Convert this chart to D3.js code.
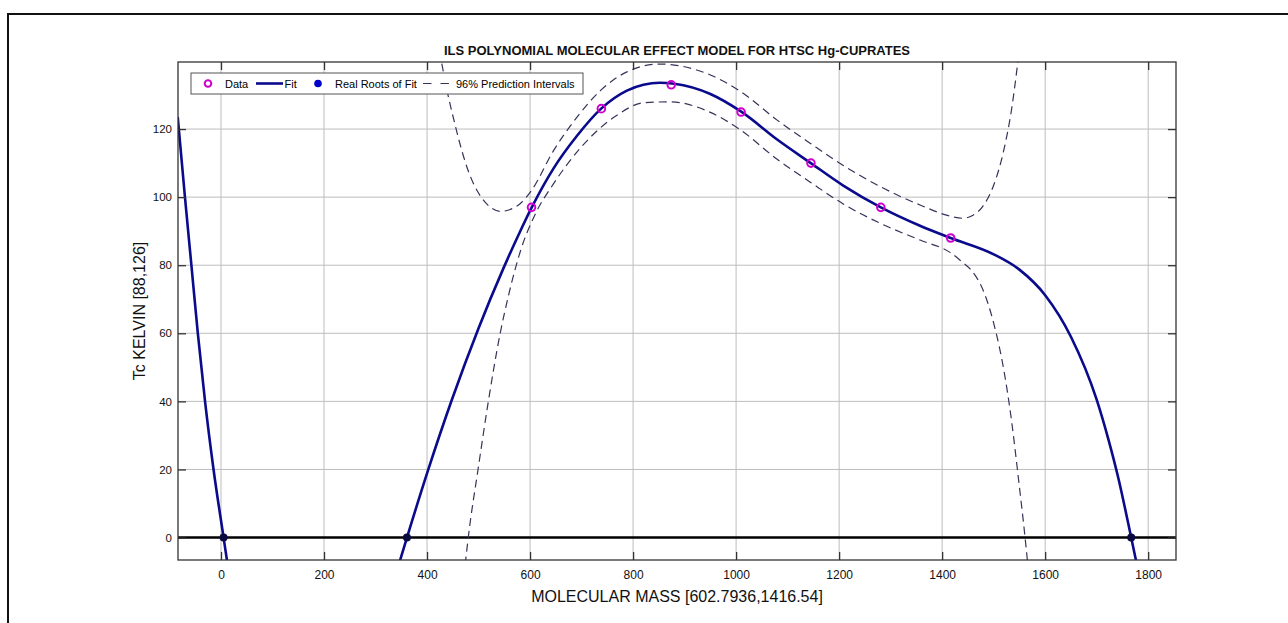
<!DOCTYPE html>
<html>
<head>
<meta charset="utf-8">
<script src="https://cdn.jsdelivr.net/npm/d3@7"></script>
<style>
  body { margin: 0; background: #fff; }
  text { font-family: "Liberation Sans", Arial, Helvetica, sans-serif; }
</style>
</head>
<body>
<div id="chart"></div>
<script>
  // data points (molecular mass, Tc)
  var massX = [602.79, 738.42, 874.04, 1009.67, 1145.29, 1280.92, 1416.54];
  var tcData = [97, 126, 133, 125, 110, 97, 88];
  var rootX = [5, 361, 1767];

  // fit curve (two visible branches)
  var fitLeftX = [-84, -70, -57.5, -45, -31, -14.5, 5, 11.5, 14];
  var fitLeftY = [123.5, 100, 80, 60, 40, 20, 0, -6.6, -9];
  var fitMainX = [344, 361, 402, 448, 500, 548, 580, 603, 645, 690, 738, 788, 820, 852, 880, 950, 1010, 1079, 1145, 1208, 1281, 1357, 1416.5, 1500, 1550, 1600, 1650, 1700, 1723, 1742, 1767, 1777, 1782];
  var fitMainY = [-8.5, 0, 19.8, 40.4, 61.5, 79, 89.7, 96.9, 108.3, 117.8, 126, 131.3, 133, 133.6, 133.3, 130.3, 125.1, 117, 110, 103.4, 97, 91.6, 88, 83.2, 78.7, 71.2, 59, 40.5, 28.7, 17.5, 0, -7.2, -11];

  // 96% prediction intervals
  var upperX = [424, 440, 454, 466, 477, 490, 506, 525, 542, 560, 580, 603, 645, 690, 738, 788, 852, 900, 950, 1010, 1079, 1145, 1208, 1281, 1357, 1416, 1440, 1460, 1480, 1500, 1520, 1535, 1548];
  var upperY = [143, 130.5, 121.5, 114.5, 109, 104, 99.8, 96.8, 95.8, 96.3, 98, 102, 113.5, 123.3, 131.5, 136.8, 139.1, 138.3, 135.9, 130.9, 122.7, 115.7, 109.3, 103, 97.7, 94.4, 93.8, 94.7, 97.5, 103.5, 114, 126, 141];
  var lowerX = [474, 480, 500, 519, 542, 558, 582, 610, 645, 697, 768, 820, 872, 950, 1008, 1079, 1144, 1208, 1280, 1357, 1416, 1440, 1460, 1480, 1500, 1520, 1535, 1548, 1561, 1567];
  var lowerY = [-8, 0, 21, 40, 60, 71, 84.5, 95, 103.8, 114.3, 124, 127.7, 128, 124.9, 119.8, 111.2, 104.4, 98, 92.3, 87.4, 83.7, 80.8, 77.9, 72.5, 63, 49, 34, 17.5, 0, -9];

  var xTicks = [0, 200, 400, 600, 800, 1000, 1200, 1400, 1600, 1800];
  var yTicks = [0, 20, 40, 60, 80, 100, 120];

  var W = 1288, H = 623;
  var plot = {left: 178, right: 1176, top: 62, bottom: 560};

  var svg = d3.select("#chart").append("svg")
    .attr("width", W).attr("height", H);

  // outer frame
  svg.append("rect")
    .attr("x", 8).attr("y", 14).attr("width", 1300).attr("height", 640)
    .attr("fill", "none").attr("stroke", "#111").attr("stroke-width", 2);

  var x = d3.scaleLinear().domain([-83.5, 1854]).range([plot.left, plot.right]);
  var y = d3.scaleLinear().domain([-6.6, 139.7]).range([plot.bottom, plot.top]);

  svg.append("clipPath").attr("id", "clip")
    .append("rect")
      .attr("x", plot.left).attr("y", plot.top)
      .attr("width", plot.right - plot.left).attr("height", plot.bottom - plot.top);

  // grid
  var grid = svg.append("g");
  grid.selectAll(".gx").data(xTicks).enter().append("line")
    .attr("x1", function(d) { return x(d); }).attr("x2", function(d) { return x(d); })
    .attr("y1", plot.top).attr("y2", plot.bottom)
    .attr("stroke", "#bdbdbd").attr("stroke-width", 1);
  grid.selectAll(".gy").data(yTicks).enter().append("line")
    .attr("y1", function(d) { return y(d); }).attr("y2", function(d) { return y(d); })
    .attr("x1", plot.left).attr("x2", plot.right)
    .attr("stroke", "#bdbdbd").attr("stroke-width", 1);

  // zero line
  svg.append("line")
    .attr("x1", plot.left).attr("x2", plot.right)
    .attr("y1", y(0)).attr("y2", y(0))
    .attr("stroke", "#000").attr("stroke-width", 2.5);

  var line = d3.line()
    .x(function(d) { return x(d[0]); })
    .y(function(d) { return y(d[1]); })
    .curve(d3.curveMonotoneX);

  function pairs(xs, ys) { return xs.map(function(v, i) { return [v, ys[i]]; }); }

  var curves = svg.append("g").attr("clip-path", "url(#clip)");

  // prediction intervals
  [pairs(upperX, upperY), pairs(lowerX, lowerY)].forEach(function(p) {
    curves.append("path")
      .attr("d", line(p))
      .attr("fill", "none")
      .attr("stroke", "#34345a")
      .attr("stroke-width", 1.2)
      .attr("stroke-dasharray", "8,5");
  });

  // fit
  [pairs(fitLeftX, fitLeftY), pairs(fitMainX, fitMainY)].forEach(function(p) {
    curves.append("path")
      .attr("d", line(p))
      .attr("fill", "none")
      .attr("stroke", "#0a0a8c")
      .attr("stroke-width", 2.6);
  });

  // data markers
  svg.selectAll(".pt").data(massX).enter().append("circle")
    .attr("cx", function(d) { return x(d); })
    .attr("cy", function(d, i) { return y(tcData[i]); })
    .attr("r", 3.8)
    .attr("fill", "none")
    .attr("stroke", "#d000d0")
    .attr("stroke-width", 2);

  // roots
  svg.selectAll(".root").data(rootX).enter().append("circle")
    .attr("cx", function(d) { return x(d); })
    .attr("cy", y(0))
    .attr("r", 4)
    .attr("fill", "#0a0a40");

  // axes box
  svg.append("rect")
    .attr("x", plot.left).attr("y", plot.top)
    .attr("width", plot.right - plot.left).attr("height", plot.bottom - plot.top)
    .attr("fill", "none").attr("stroke", "#333").attr("stroke-width", 1.3);

  var xAxis = svg.append("g")
    .attr("transform", "translate(0," + plot.bottom + ")")
    .call(d3.axisBottom(x).tickValues(xTicks).tickSize(-8).tickPadding(10).tickFormat(d3.format("d")));
  var xTop = svg.append("g")
    .attr("transform", "translate(0," + plot.top + ")")
    .call(d3.axisTop(x).tickValues(xTicks).tickSize(-8).tickFormat(""));
  var yAxis = svg.append("g")
    .attr("transform", "translate(" + plot.left + ",0)")
    .call(d3.axisLeft(y).tickValues(yTicks).tickSize(-8).tickPadding(6).tickFormat(d3.format("d")));
  var yRight = svg.append("g")
    .attr("transform", "translate(" + plot.right + ",0)")
    .call(d3.axisRight(y).tickValues(yTicks).tickSize(-8).tickFormat(""));

  [xAxis, xTop, yAxis, yRight].forEach(function(a) {
    a.select(".domain").remove();
    a.selectAll(".tick line").attr("stroke", "#333").attr("stroke-width", 1.3);
  });
  xAxis.selectAll("text").attr("font-size", 12).attr("fill", "#111")
    .attr("font-family", "Liberation Sans, Arial, sans-serif");
  yAxis.selectAll("text").attr("font-size", 11.5).attr("fill", "#111")
    .attr("font-family", "Liberation Sans, Arial, sans-serif");

  // title and labels
  svg.append("text")
    .attr("x", (plot.left + plot.right) / 2).attr("y", 55)
    .attr("text-anchor", "middle")
    .attr("font-size", 13).attr("font-weight", "bold").attr("fill", "#111")
    .text("ILS POLYNOMIAL MOLECULAR EFFECT MODEL FOR HTSC Hg-CUPRATES");

  svg.append("text")
    .attr("x", (plot.left + plot.right) / 2).attr("y", 602)
    .attr("text-anchor", "middle")
    .attr("font-size", 16).attr("fill", "#111")
    .text("MOLECULAR MASS [602.7936,1416.54]");

  svg.append("text")
    .attr("transform", "translate(145," + (plot.top + plot.bottom) / 2 + ") rotate(-90)")
    .attr("text-anchor", "middle")
    .attr("font-size", 16).attr("fill", "#111")
    .text("Tc KELVIN [88,126]");

  // legend
  var lg = svg.append("g");
  lg.append("rect")
    .attr("x", 191).attr("y", 73).attr("width", 392).attr("height", 21)
    .attr("fill", "#fff").attr("stroke", "#555").attr("stroke-width", 1);
  var ly = 83.5;
  lg.append("circle").attr("cx", 208).attr("cy", ly).attr("r", 3.3)
    .attr("fill", "none").attr("stroke", "#d000d0").attr("stroke-width", 2);
  lg.append("text").attr("x", 225).attr("y", ly + 4).attr("font-size", 11).text("Data");
  lg.append("line").attr("x1", 256).attr("x2", 283).attr("y1", ly).attr("y2", ly)
    .attr("stroke", "#0a0a8c").attr("stroke-width", 2.6);
  lg.append("text").attr("x", 284.5).attr("y", ly + 4).attr("font-size", 11).text("Fit");
  lg.append("circle").attr("cx", 318).attr("cy", ly).attr("r", 3.8).attr("fill", "#0000c8");
  lg.append("text").attr("x", 335).attr("y", ly + 4).attr("font-size", 11).text("Real Roots of Fit");
  lg.append("line").attr("x1", 423).attr("x2", 449).attr("y1", ly).attr("y2", ly)
    .attr("stroke", "#34345a").attr("stroke-width", 1.2).attr("stroke-dasharray", "8.5,9");
  lg.append("text").attr("x", 456).attr("y", ly + 4).attr("font-size", 11).text("96% Prediction Intervals");
</script>
</body>
</html>
